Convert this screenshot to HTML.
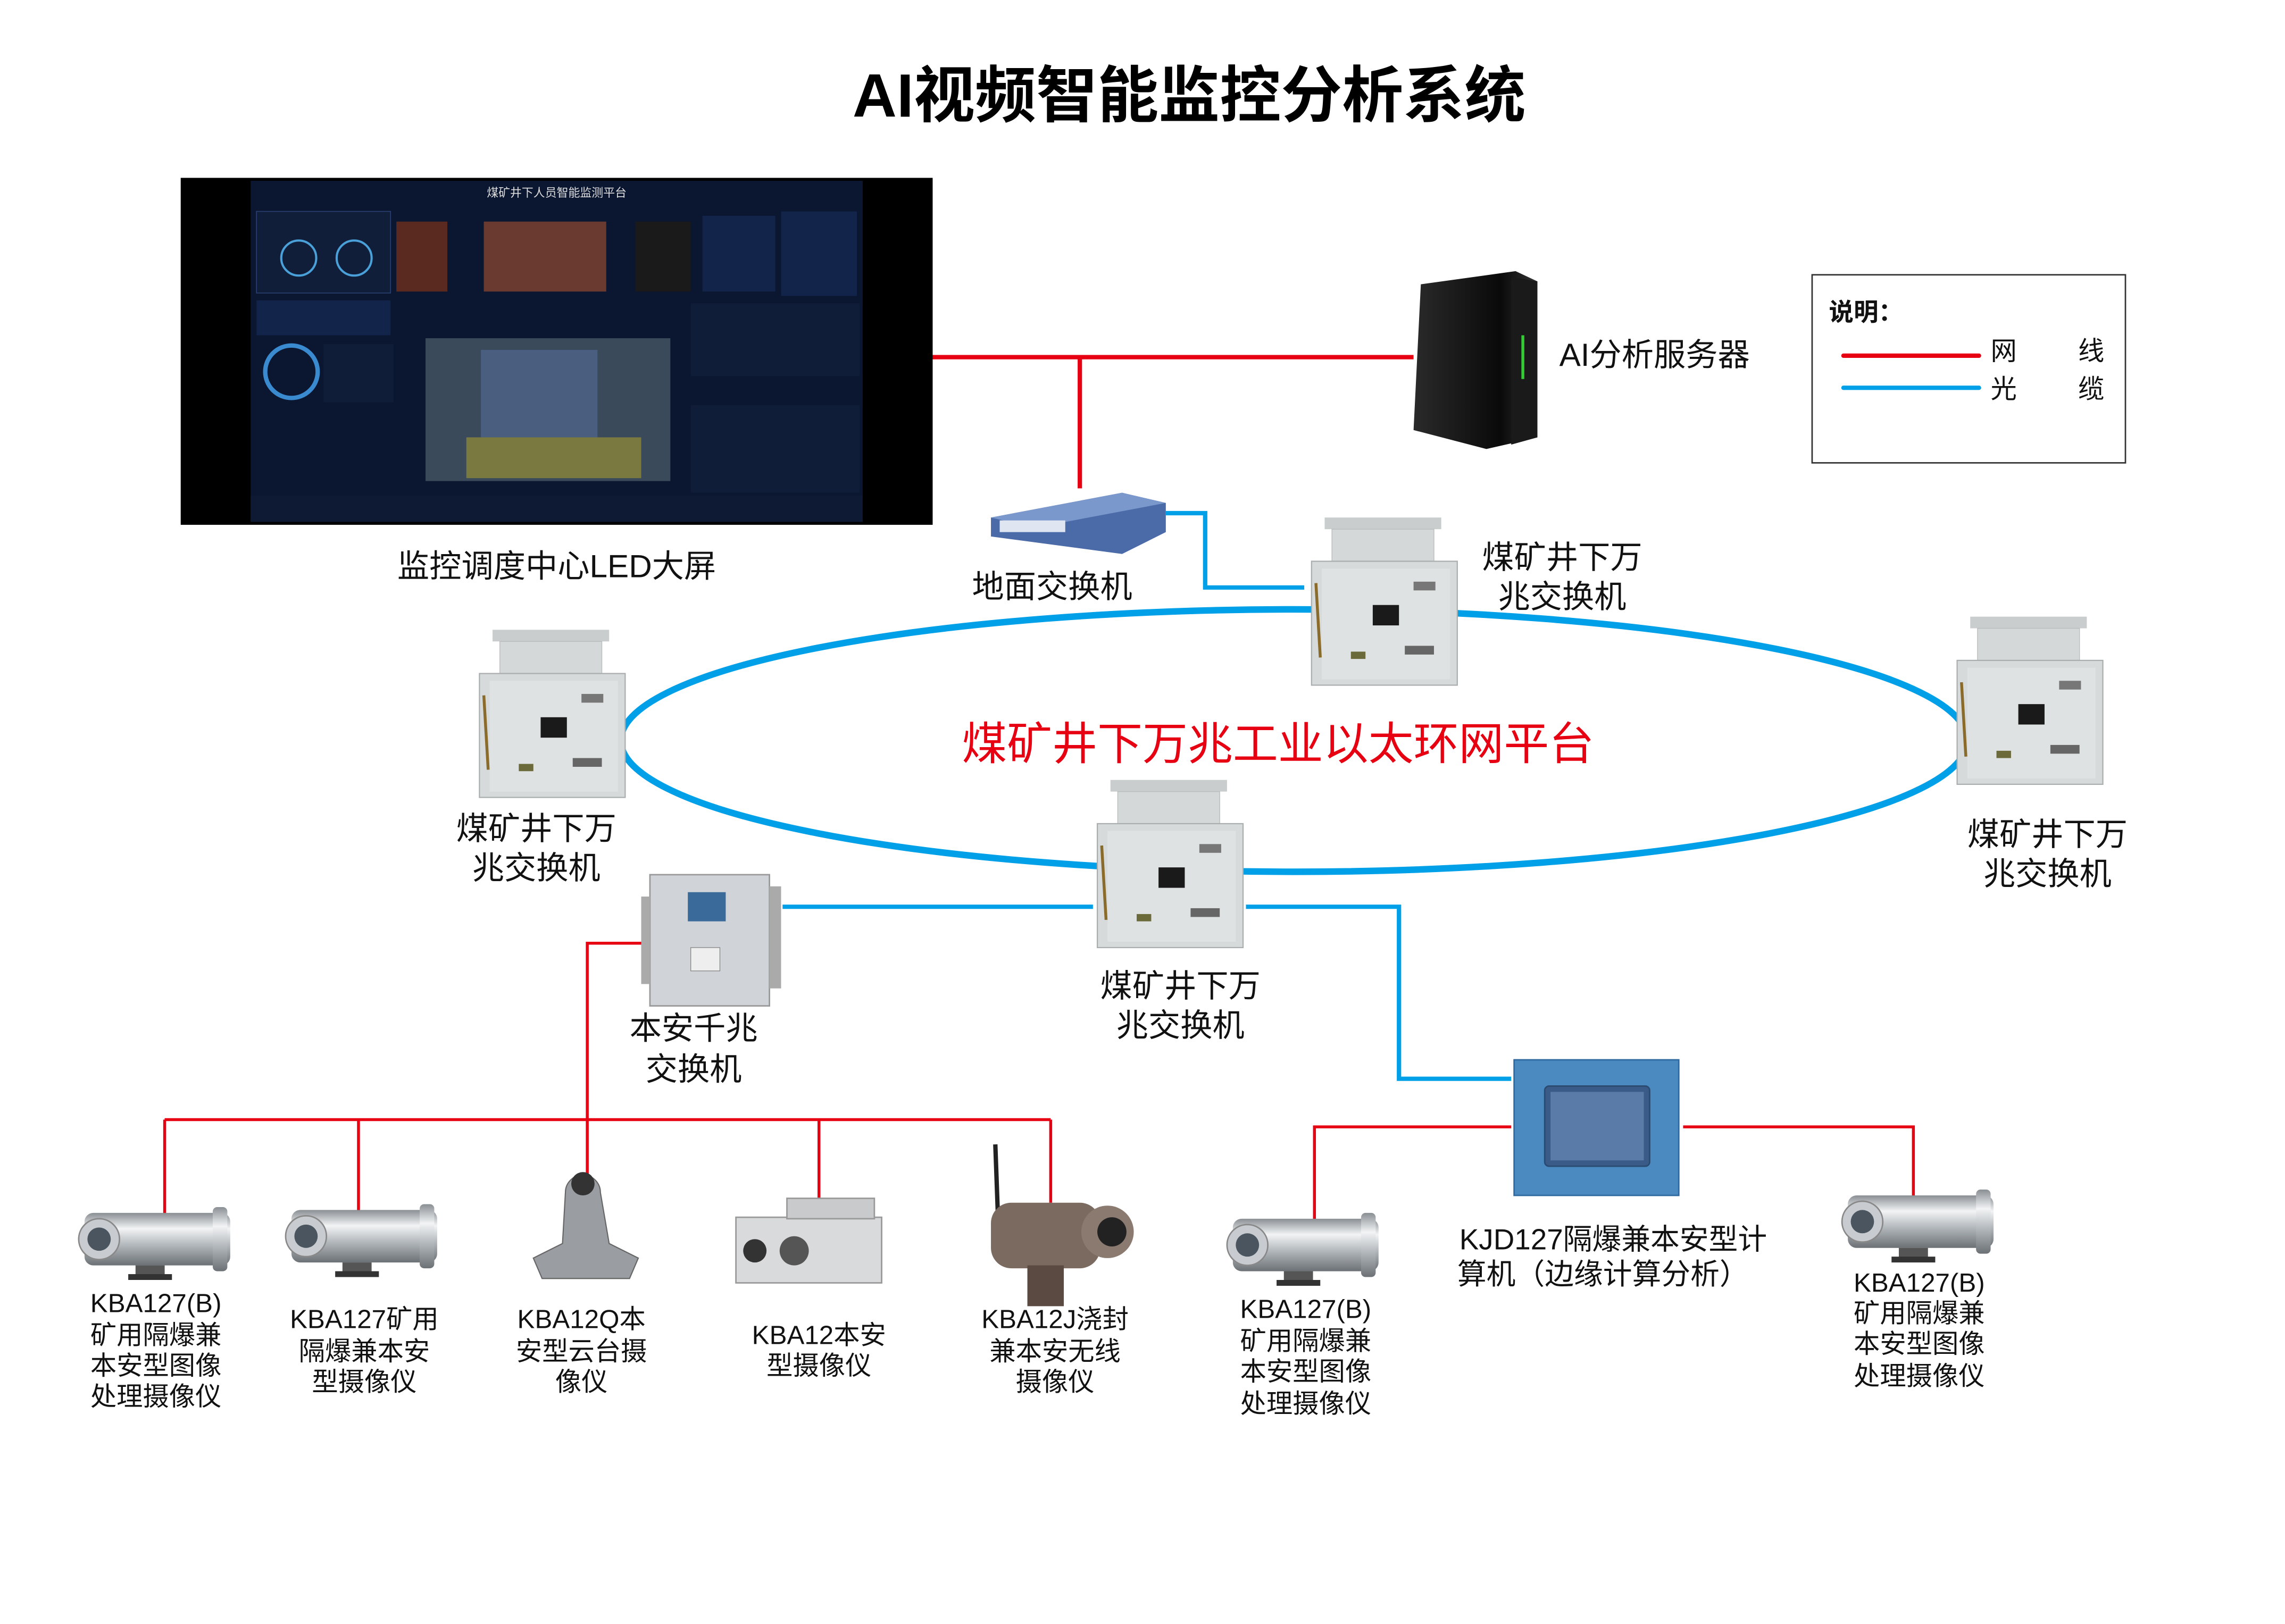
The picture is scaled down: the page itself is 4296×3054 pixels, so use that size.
<!DOCTYPE html>
<html><head><meta charset="utf-8"><style>
html,body{margin:0;padding:0;background:#fff;}
svg{display:block;}
text{font-family:"Liberation Sans","Noto Sans CJK SC",sans-serif;}
</style></head><body>
<svg width="4296" height="3054" viewBox="0 0 1568 1114" preserveAspectRatio="none" xmlns="http://www.w3.org/2000/svg">
<defs>
<linearGradient id="cyl" x1="0" y1="0" x2="0" y2="1">
<stop offset="0" stop-color="#8a8f94"/><stop offset="0.3" stop-color="#f2f4f5"/><stop offset="0.6" stop-color="#b5babe"/><stop offset="1" stop-color="#6c7176"/>
</linearGradient>
<linearGradient id="srv" x1="0" y1="0" x2="1" y2="0">
<stop offset="0" stop-color="#2a2a2a"/><stop offset="0.7" stop-color="#0a0a0a"/><stop offset="1" stop-color="#333"/>
</linearGradient>
<g id="sw">
<rect x="12" y="0" width="80" height="8" fill="#c9cdcd"/>
<rect x="17" y="8" width="70" height="30" fill="#d4d8d8" stroke="#b8bcbc" stroke-width="0.5"/>
<rect x="3" y="30" width="100" height="85" fill="#d6dada" stroke="#a9adad" stroke-width="0.8"/>
<rect x="10" y="35" width="88" height="76" fill="#dfe2e2"/>
<rect x="45" y="60" width="18" height="14" fill="#1a1a1a"/>
<rect x="73" y="44" width="15" height="6" fill="#777"/>
<rect x="67" y="88" width="20" height="6" fill="#666"/>
<rect x="30" y="92" width="10" height="5" fill="#6b6a3a"/>
<line x1="6" y1="45" x2="9" y2="96" stroke="#8a6b2a" stroke-width="2"/>
</g>
<g id="cam">
<rect x="0" y="0" width="100" height="36" rx="6" fill="url(#cyl)"/>
<rect x="88" y="-4" width="10" height="44" rx="3" fill="url(#cyl)"/>
<circle cx="10" cy="18" r="14" fill="#c8ccd0" stroke="#888"/>
<circle cx="10" cy="18" r="8" fill="#4a5560"/>
<rect x="35" y="36" width="20" height="8" fill="#555"/>
<rect x="30" y="42" width="30" height="4" fill="#333"/>
</g>
</defs>

<text x="816" y="80" font-size="42" font-weight="bold" text-anchor="middle" fill="#000">AI视频智能监控分析系统</text>

<rect x="124" y="122" width="516" height="238" fill="#000"/>
<rect x="172" y="124" width="420" height="234" fill="#0b1630"/>
<rect x="176" y="145" width="92" height="56" fill="#101e3a" stroke="#2a4070" stroke-width="0.6"/>
<circle cx="205" cy="177" r="12" fill="none" stroke="#4aa0d8" stroke-width="1.5"/>
<circle cx="243" cy="177" r="12" fill="none" stroke="#4aa0d8" stroke-width="1.5"/>
<rect x="272" y="152" width="35" height="48" fill="#5a2a20"/>
<rect x="332" y="152" width="84" height="48" fill="#6a3a30"/>
<rect x="436" y="152" width="38" height="48" fill="#1a1a1a"/>
<rect x="482" y="148" width="50" height="52" fill="#12244a"/>
<rect x="536" y="145" width="52" height="58" fill="#12244a"/>
<rect x="176" y="206" width="92" height="24" fill="#12244a"/>
<circle cx="200" cy="255" r="18" fill="none" stroke="#3a8ad0" stroke-width="3"/>
<rect x="222" y="236" width="48" height="40" fill="#0f1d38"/>
<rect x="292" y="232" width="168" height="98" fill="#3a4a5a"/>
<rect x="330" y="240" width="80" height="60" fill="#4a5e80"/>
<rect x="320" y="300" width="120" height="28" fill="#7a7a40"/>
<rect x="474" y="208" width="116" height="50" fill="#0f1d38"/>
<rect x="474" y="278" width="116" height="60" fill="#0f1d38"/>
<rect x="172" y="340" width="420" height="18" fill="#0e1a34"/>
<text x="382" y="135" font-size="8" fill="#ddd" text-anchor="middle">煤矿井下人员智能监测平台</text>
<text x="382" y="396" font-size="22" text-anchor="middle" fill="#111">监控调度中心LED大屏</text>

<polyline points="640,245 970,245" fill="none" stroke="#e60012" stroke-width="3"/>
<polyline points="741,245 741,335" fill="none" stroke="#e60012" stroke-width="3"/>

<polygon points="975,195 1040,186 1055,193 1055,300 1020,308 970,295" fill="url(#srv)"/>
<polygon points="1037,190 1055,193 1055,300 1037,305" fill="#1a1a1a"/>
<line x1="1045" y1="230" x2="1045" y2="260" stroke="#3c3" stroke-width="2"/>
<text x="1070" y="251" font-size="22" fill="#111">AI分析服务器</text>

<rect x="1243.5" y="188.5" width="215" height="129" fill="#fff" stroke="#333" stroke-width="1"/>
<text x="1255" y="220" font-size="17" font-weight="bold" fill="#111">说明：</text>
<line x1="1265" y1="244" x2="1358" y2="244" stroke="#e60012" stroke-width="3" stroke-linecap="round"/>
<line x1="1265" y1="266" x2="1358" y2="266" stroke="#00a0e9" stroke-width="3" stroke-linecap="round"/>
<text x="1366" y="247" font-size="18" fill="#111">网</text>
<text x="1426" y="247" font-size="18" fill="#111">线</text>
<text x="1366" y="273" font-size="18" fill="#111">光</text>
<text x="1426" y="273" font-size="18" fill="#111">缆</text>

<polygon points="680,355 770,338 800,345 800,365 770,380 680,368" fill="#4a6aa8"/>
<polygon points="680,355 770,338 800,345 710,362" fill="#7a98cc"/>
<rect x="686" y="357" width="45" height="8" fill="#dfe6f2"/>
<text x="722" y="410" font-size="22" text-anchor="middle" fill="#111">地面交换机</text>
<polyline points="800,352 827,352 827,403 895,403" fill="none" stroke="#00a0e9" stroke-width="3"/>

<ellipse cx="888" cy="508" rx="462" ry="90" fill="none" stroke="#00a0e9" stroke-width="4.5"/>

<polyline points="537,622 750,622" fill="none" stroke="#00a0e9" stroke-width="3"/>
<polyline points="855,622 960,622 960,740 1037,740" fill="none" stroke="#00a0e9" stroke-width="3"/>

<use href="#sw" x="897" y="355"/>
<use href="#sw" x="326" y="432"/>
<use href="#sw" x="1340" y="423"/>
<use href="#sw" x="750" y="535"/>
<text x="1072" y="390" font-size="22" text-anchor="middle" fill="#111">煤矿井下万</text>
<text x="1072" y="417" font-size="22" text-anchor="middle" fill="#111">兆交换机</text>
<text x="368" y="576" font-size="22" text-anchor="middle" fill="#111">煤矿井下万</text>
<text x="368" y="603" font-size="22" text-anchor="middle" fill="#111">兆交换机</text>
<text x="1405" y="580" font-size="22" text-anchor="middle" fill="#111">煤矿井下万</text>
<text x="1405" y="607" font-size="22" text-anchor="middle" fill="#111">兆交换机</text>
<text x="810" y="684" font-size="22" text-anchor="middle" fill="#111">煤矿井下万</text>
<text x="810" y="711" font-size="22" text-anchor="middle" fill="#111">兆交换机</text>
<text x="877" y="521" font-size="31" text-anchor="middle" fill="#e60012">煤矿井下万兆工业以太环网平台</text>

<rect x="446" y="600" width="82" height="90" fill="#d0d4d8" stroke="#999"/>
<rect x="472" y="612" width="26" height="20" fill="#3a6a9a"/>
<rect x="474" y="650" width="20" height="16" fill="#eee" stroke="#888" stroke-width="0.5"/>
<rect x="440" y="615" width="6" height="60" fill="#aaa"/>
<rect x="528" y="608" width="8" height="70" fill="#aaa"/>
<text x="476" y="713" font-size="22" text-anchor="middle" fill="#111">本安千兆</text>
<text x="476" y="741" font-size="22" text-anchor="middle" fill="#111">交换机</text>

<polyline points="440,647 403,647 403,768" fill="none" stroke="#e60012" stroke-width="2"/>
<polyline points="113,768 721,768" fill="none" stroke="#e60012" stroke-width="2"/>
<line x1="113" y1="768" x2="113" y2="835" stroke="#e60012" stroke-width="2"/>
<line x1="246" y1="768" x2="246" y2="835" stroke="#e60012" stroke-width="2"/>
<line x1="403" y1="768" x2="403" y2="810" stroke="#e60012" stroke-width="2"/>
<line x1="562" y1="768" x2="562" y2="825" stroke="#e60012" stroke-width="2"/>
<line x1="721" y1="768" x2="721" y2="825" stroke="#e60012" stroke-width="2"/>

<polyline points="1037,773 902,773 902,840" fill="none" stroke="#e60012" stroke-width="2"/>
<polyline points="1155,773 1313,773 1313,830" fill="none" stroke="#e60012" stroke-width="2"/>
<rect x="1039" y="727" width="113" height="93" fill="#4a8ac0" stroke="#2e6a9e"/>
<rect x="1060" y="745" width="72" height="55" rx="3" fill="#3a5a88" stroke="#2a4a70"/>
<rect x="1064" y="749" width="64" height="47" fill="#5a7aa8"/>

<use href="#cam" x="58" y="832"/>
<use href="#cam" x="200" y="830"/>
<use href="#cam" x="846" y="836"/>
<use href="#cam" x="1268" y="820"/>
<path d="M388,818 a12,12 0 0 1 24,0 l6,35 l20,10 l-6,14 l-60,0 l-6,-14 l20,-10 z" fill="#9a9ea3" stroke="#666" stroke-width="0.8"/>
<circle cx="400" cy="812" r="8" fill="#333"/>
<rect x="505" y="835" width="100" height="45" fill="#d8dadc" stroke="#999"/>
<rect x="540" y="822" width="60" height="14" fill="#c8cacc" stroke="#999"/>
<circle cx="518" cy="858" r="8" fill="#333"/>
<circle cx="545" cy="858" r="10" fill="#555"/>
<line x1="683" y1="785" x2="685" y2="840" stroke="#222" stroke-width="3"/>
<rect x="680" y="825" width="75" height="45" rx="14" fill="#7a6a60"/>
<circle cx="760" cy="845" r="18" fill="#8a7a70"/>
<circle cx="763" cy="845" r="10" fill="#222"/>
<rect x="705" y="868" width="25" height="28" fill="#5a4a42"/>

<g font-size="18" fill="#111" text-anchor="middle">
<text x="107" y="900">KBA127(B)</text><text x="107" y="922">矿用隔爆兼</text><text x="107" y="943">本安型图像</text><text x="107" y="964">处理摄像仪</text>
<text x="250" y="911">KBA127矿用</text><text x="250" y="933">隔爆兼本安</text><text x="250" y="954">型摄像仪</text>
<text x="399" y="911">KBA12Q本</text><text x="399" y="933">安型云台摄</text><text x="399" y="954">像仪</text>
<text x="562" y="922">KBA12本安</text><text x="562" y="943">型摄像仪</text>
<text x="724" y="911">KBA12J浇封</text><text x="724" y="933">兼本安无线</text><text x="724" y="954">摄像仪</text>
<text x="896" y="904">KBA127(B)</text><text x="896" y="926">矿用隔爆兼</text><text x="896" y="947">本安型图像</text><text x="896" y="969">处理摄像仪</text>
<text x="1317" y="886">KBA127(B)</text><text x="1317" y="907">矿用隔爆兼</text><text x="1317" y="928">本安型图像</text><text x="1317" y="950">处理摄像仪</text>
</g>
<text x="1107" y="857" font-size="20" text-anchor="middle" fill="#111">KJD127隔爆兼本安型计</text>
<text x="1100" y="881" font-size="20" text-anchor="middle" fill="#111">算机（边缘计算分析）</text>
</svg>
</body></html>
